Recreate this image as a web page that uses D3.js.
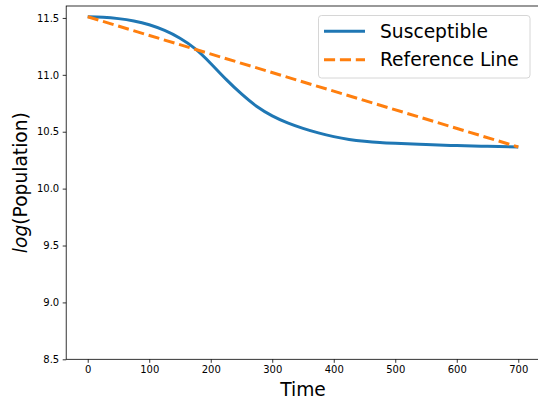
<!DOCTYPE html>
<html><head><meta charset="utf-8">
<script src="https://cdn.jsdelivr.net/npm/d3@7"></script>
<style>
body{margin:0;background:#fff;}
svg{display:block;font-family:"DejaVu Sans",sans-serif;}
</style></head>
<body><svg id="c" width="538" height="405"></svg>
<script>
const times = [0,25,50,75,100,125,150,175,200,225,250,275,300,325,350,375,400,425,450,475,500,550,600,650,700];
const susceptible = [11.51,11.506,11.494,11.473,11.44,11.39,11.322,11.228,11.1,10.96,10.832,10.722,10.64,10.578,10.53,10.49,10.457,10.432,10.416,10.405,10.398,10.387,10.378,10.372,10.366];
const refTimes = [0,700];
const refValues = [11.51,10.366];
const xTicks = [0,100,200,300,400,500,600,700];
const yTicks = [8.5,9.0,9.5,10.0,10.5,11.0,11.5];
const seriesNames = ["Susceptible","Reference Line"];
const colors = ["#1f77b4","#ff7f0e"];

const svg = d3.select("#c");
const L = 66.2, R = 539.8, T = 6, B = 359.3;
const x = d3.scaleLinear().domain([-35,735]).range([L,R]);
const y = d3.scaleLinear().domain([8.5,11.605]).range([B,T]);

const xa = svg.append("g").attr("transform",`translate(0,${B})`)
  .call(d3.axisBottom(x).tickValues(xTicks).tickSize(3.5).tickPadding(3.5).tickFormat(d3.format("d")));
const ya = svg.append("g").attr("transform",`translate(${L},0)`)
  .call(d3.axisLeft(y).tickValues(yTicks).tickSize(3.5).tickPadding(3.5).tickFormat(d3.format(".1f")));
[xa,ya].forEach(g=>{
  g.select(".domain").remove();
  g.selectAll(".tick line").attr("stroke","#000").attr("stroke-width",0.8);
  g.selectAll(".tick text").attr("fill","#000").style("font-size","10px").style("font-family","DejaVu Sans");
});
svg.append("rect").attr("x",L).attr("y",T).attr("width",R-L).attr("height",B-T)
  .attr("fill","none").attr("stroke","#000").attr("stroke-width",0.8);

const line = d3.line().x(d=>x(d[0])).y(d=>y(d[1])).curve(d3.curveNatural);
svg.append("path").datum(times.map((t,i)=>[t,susceptible[i]]))
  .attr("d",line).attr("fill","none").attr("stroke",colors[0]).attr("stroke-width",3);
svg.append("path").datum(refTimes.map((t,i)=>[t,refValues[i]]))
  .attr("d",line).attr("fill","none").attr("stroke",colors[1]).attr("stroke-width",3)
  .attr("stroke-dasharray","11.1,4.8");

svg.append("text").attr("x",(L+R)/2).attr("y",396).attr("text-anchor","middle")
  .style("font-size","18.67px").text("Time");
const yl = svg.append("text").attr("transform",`translate(27,${(T+B)/2}) rotate(-90)`)
  .attr("text-anchor","middle").style("font-size","18.67px");
yl.append("tspan").style("font-style","italic").text("log");
yl.append("tspan").text("(Population)");

const lg = svg.append("g");
lg.append("rect").attr("x",318.5).attr("y",15.5).attr("width",211.5).attr("height",62.5)
  .attr("rx",3).attr("fill","#fff").attr("fill-opacity",0.8).attr("stroke","#cccccc").attr("stroke-width",0.8);
seriesNames.forEach((n,i)=>{
  const cy = 31.3 + i*28.4;
  lg.append("line").attr("x1",324).attr("x2",365).attr("y1",cy).attr("y2",cy)
    .attr("stroke",colors[i]).attr("stroke-width",3)
    .attr("stroke-dasharray", i===1 ? "11.1,4.8" : null);
  lg.append("text").attr("x",380).attr("y",cy).attr("dy","0.36em")
    .style("font-size","18.67px").text(n);
});
</script></body></html>
